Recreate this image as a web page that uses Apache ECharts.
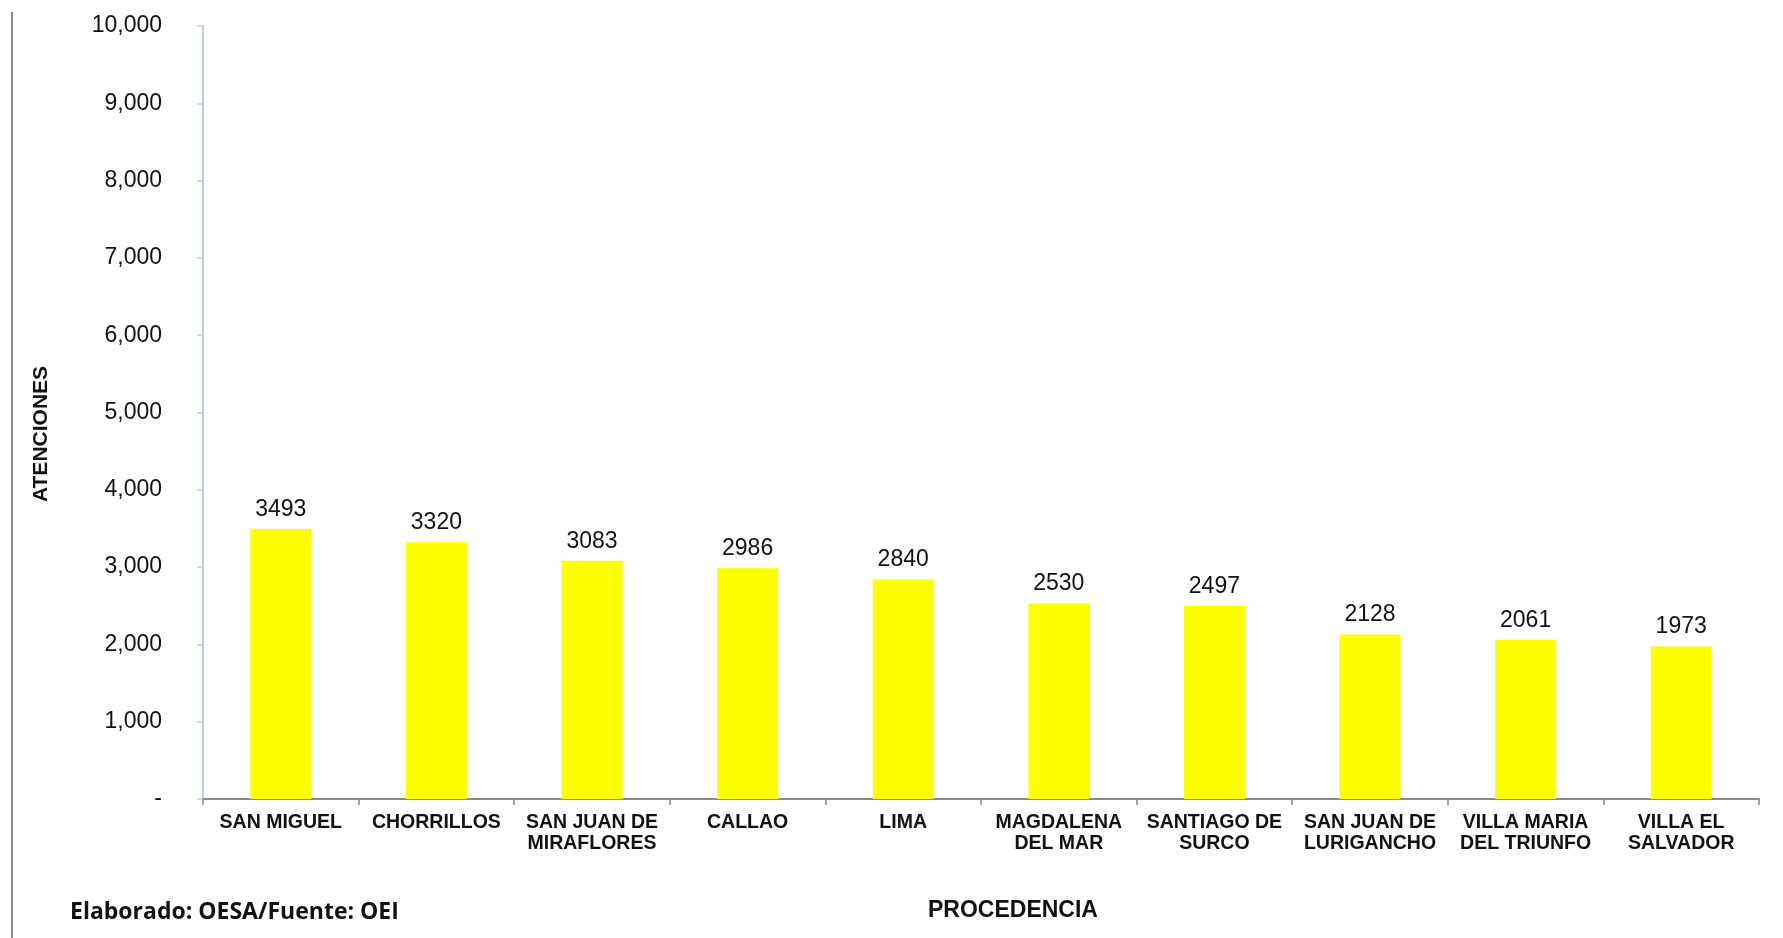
<!DOCTYPE html>
<html>
<head>
<meta charset="utf-8">
<script src="https://cdn.jsdelivr.net/npm/echarts@6/dist/echarts.min.js"></script>
<style>
  html, body { margin: 0; padding: 0; background: #ffffff; }
  #chart { width: 1783px; height: 938px; }
</style>
</head>
<body>
<div id="chart"></div>
<script>
// Atenciones por distrito de procedencia
const categories = [
  'SAN MIGUEL', 'CHORRILLOS', 'SAN JUAN DE\nMIRAFLORES', 'CALLAO', 'LIMA',
  'MAGDALENA\nDEL MAR', 'SANTIAGO DE\nSURCO', 'SAN JUAN DE\nLURIGANCHO',
  'VILLA MARIA\nDEL TRIUNFO', 'VILLA EL\nSALVADOR'
];
const atenciones = [3493, 3320, 3083, 2986, 2840, 2530, 2497, 2128, 2061, 1973];
const yMin = 0;
const yMax = 10000;
const yStep = 1000;
const yAxisTitle = 'ATENCIONES';
const xAxisTitle = 'PROCEDENCIA';
const sourceNote = 'Elaborado: OESA/Fuente: OEI';

const chart = echarts.init(document.getElementById('chart'));

chart.setOption({
  backgroundColor: '#ffffff',
  animation: false,
  grid: { left: 203, right: 24, top: 26, bottom: 139, containLabel: false },
  xAxis: {
    type: 'category',
    data: categories,
    boundaryGap: true,
    axisLine: { lineStyle: { color: '#8a8a8a', width: 2 } },
    axisTick: { show: true, length: 6, lineStyle: { color: '#8a8a8a', width: 1.5 } },
    axisLabel: {
      interval: 0,
      margin: 13,
      color: '#111111',
      fontFamily: 'Liberation Sans, Arial, sans-serif',
      fontWeight: 'bold',
      fontSize: 19.5,
      lineHeight: 21
    },
    splitLine: { show: false }
  },
  yAxis: {
    type: 'value',
    min: yMin,
    max: yMax,
    interval: yStep,
    axisLine: { show: true, lineStyle: { color: '#bcd0e8', width: 2 } },
    axisTick: { show: true, length: 6, lineStyle: { color: '#bcd0e8', width: 1.5 } },
    axisLabel: {
      margin: 41,
      color: '#111111',
      fontFamily: 'Liberation Sans, Arial, sans-serif',
      fontSize: 23,
      formatter: v => v === 0 ? '-' : v.toLocaleString('en-US')
    },
    splitLine: { show: false }
  },
  series: [{
    type: 'bar',
    data: atenciones,
    barWidth: 61,
    itemStyle: { color: '#ffff00' },
    label: {
      show: true,
      position: 'top',
      distance: 8,
      color: '#111111',
      fontFamily: 'Liberation Sans, Arial, sans-serif',
      fontSize: 23
    }
  }],
  graphic: [
    {
      type: 'line',
      shape: { x1: 12, y1: 12, x2: 12, y2: 938 },
      style: { stroke: '#8c8c8c', lineWidth: 2 }
    },
    {
      type: 'text',
      x: 41, y: 434,
      rotation: Math.PI / 2,
      style: {
        text: yAxisTitle,
        fill: '#111111',
        font: 'bold 21px "Liberation Sans", Arial, sans-serif',
        align: 'center',
        verticalAlign: 'middle'
      }
    },
    {
      type: 'text',
      x: 1013, y: 911,
      style: {
        text: xAxisTitle,
        fill: '#111111',
        font: 'bold 23px "Liberation Sans", Arial, sans-serif',
        align: 'center',
        verticalAlign: 'middle'
      }
    },
    {
      type: 'text',
      x: 70, y: 912,
      style: {
        text: sourceNote,
        fill: '#111111',
        font: 'bold 23px "Open Sans", sans-serif',
        align: 'left',
        verticalAlign: 'middle'
      }
    }
  ]
});
</script>
</body>
</html>
